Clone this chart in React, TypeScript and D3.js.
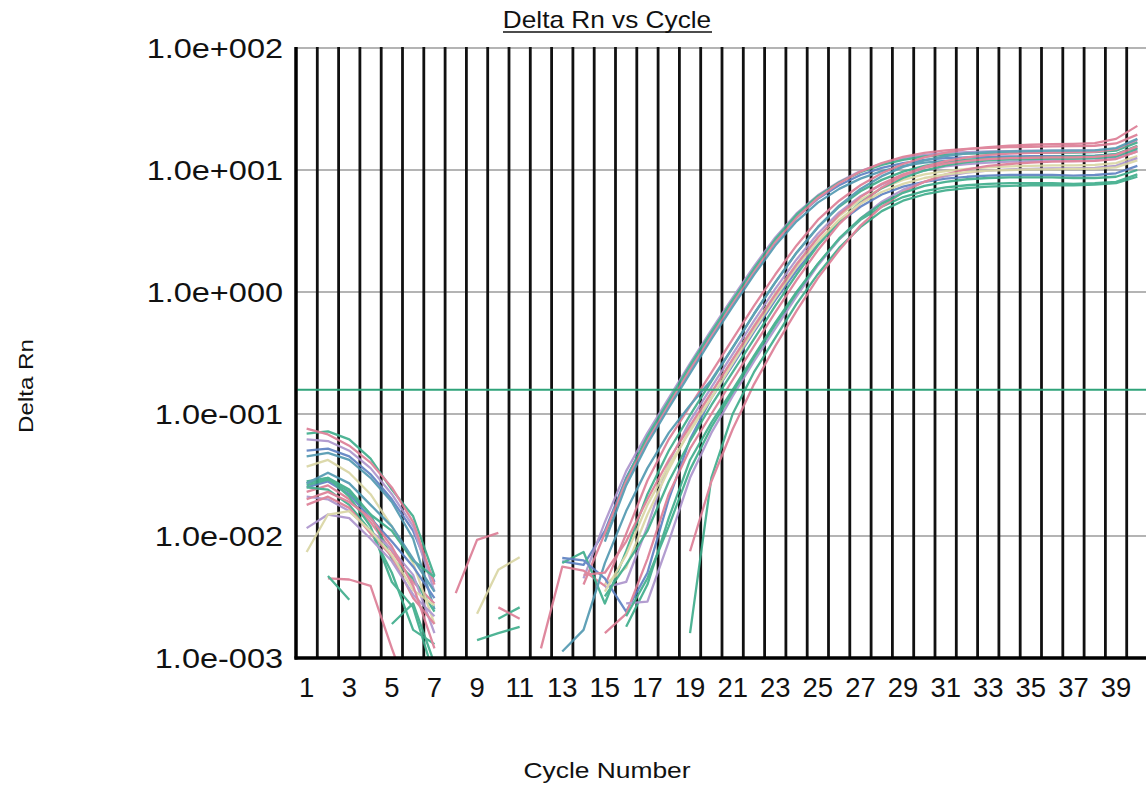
import React from "react";
import * as d3 from "d3";

// cycle numbers and axis labels
const cycles = d3.range(1, 41);
const xLabelCycles = d3.range(1, 40, 2);
const yTicks = [1e-3, 1e-2, 1e-1, 1, 10, 100];
const yTickLabels = ["1.0e-003", "1.0e-002", "1.0e-001", "1.0e+000", "1.0e+001", "1.0e+002"];
const threshold = 0.158;

const _ = null;

// Delta Rn per cycle, one array per well (null = not shown)
const wellA1 = [0.05, 0.052, 0.045, 0.032, 0.02, 0.011, 0.0042, _, _, _,
  _, _, 0.0062, 0.0058, 0.011, 0.03, 0.064, 0.124, 0.24, 0.45,
  0.83, 1.5, 2.6, 4.1, 5.8, 7.5, 9.1, 10.4, 11.4, 12.1,
  12.5, 12.7, 12.8, 12.9, 13.0, 13.0, 13.0, 13.1, 13.4, 15.2];
const wellA2 = [0.062, 0.06, 0.05, 0.036, 0.022, 0.012, 0.0035, _, _, _,
  _, _, _, 0.0045, 0.013, 0.034, 0.07, 0.135, 0.26, 0.49,
  0.9, 1.62, 2.8, 4.4, 6.2, 8.0, 9.8, 11.3, 12.5, 13.3,
  13.8, 14.0, 14.2, 14.3, 14.4, 14.4, 14.5, 14.5, 14.9, 17.0];
const wellA3 = [0.069, 0.072, 0.062, 0.043, 0.024, 0.0145, 0.0047, _, _, _,
  _, _, _, _, 0.01, 0.029, 0.066, 0.128, 0.25, 0.47,
  0.86, 1.55, 2.7, 4.3, 6.1, 7.9, 9.6, 11.0, 12.1, 12.9,
  13.3, 13.6, 13.7, 13.8, 13.8, 13.9, 13.9, 14.0, 14.4, 16.8];
const wellA4 = [0.076, 0.068, 0.055, 0.04, 0.025, 0.013, 0.004, _, _, _,
  _, _, _, 0.004, 0.0105, 0.028, 0.06, 0.118, 0.23, 0.43,
  0.8, 1.45, 2.55, 4.05, 5.9, 7.8, 9.7, 11.4, 12.8, 13.8,
  14.5, 14.9, 15.2, 15.4, 15.5, 15.6, 15.7, 15.8, 16.5, 19.5];
const wellA5 = [0.045, 0.048, 0.042, 0.03, 0.019, 0.0095, 0.0025, _, _, _,
  _, _, _, _, 0.009, 0.026, 0.057, 0.112, 0.215, 0.41,
  0.76, 1.38, 2.4, 3.8, 5.4, 7.0, 8.5, 9.8, 10.8, 11.5,
  11.9, 12.1, 12.2, 12.3, 12.3, 12.4, 12.4, 12.5, 12.8, 14.5];
const wellB1 = [0.023, 0.026, 0.02, 0.013, 0.0075, 0.0042, 0.0028, _, _, _,
  _, 0.0012, 0.0056, 0.0052, 0.0039, 0.0104, 0.0285, 0.062, 0.116, 0.218,
  0.41, 0.77, 1.39, 2.41, 3.9, 5.6, 7.5, 9.4, 11.2, 12.7,
  13.9, 14.8, 15.4, 15.8, 16.1, 16.3, 16.4, 16.6, 18.0, 23.0];
const wellB2 = [0.028, 0.03, 0.024, 0.015, 0.0065, 0.0045, 0.0024, _, _, _,
  _, _, 0.006, 0.0074, 0.0028, 0.0075, 0.022, 0.05, 0.098, 0.185,
  0.35, 0.66, 1.2, 2.1, 3.4, 5.0, 6.7, 8.3, 9.7, 10.8,
  11.6, 12.1, 12.4, 12.6, 12.7, 12.8, 12.9, 13.0, 13.5, 15.8];
const wellB3 = [0.021, 0.02, 0.016, 0.011, 0.0078, 0.0048, 0.0016, _, _, _,
  _, _, _, _, 0.0038, 0.0042, 0.012, 0.04, 0.088, 0.165,
  0.31, 0.58, 1.06, 1.85, 3.0, 4.5, 6.1, 7.6, 8.9, 9.9,
  10.7, 11.2, 11.5, 11.7, 11.8, 11.9, 11.9, 12.0, 12.4, 14.2];
const wellB4 = [0.037, 0.042, 0.033, 0.022, 0.012, 0.006, 0.0019, _, 0.0023, 0.0053,
  0.0067, _, _, _, 0.004, 0.0055, 0.015, 0.035, 0.075, 0.148,
  0.28, 0.53, 0.97, 1.7, 2.8, 4.2, 5.7, 7.1, 8.3, 9.2,
  9.8, 10.2, 10.5, 10.7, 10.8, 10.9, 10.9, 11.0, 11.4, 13.0];
const wellB5 = [0.025, 0.028, 0.022, 0.014, 0.009, 0.0056, 0.0031, _, _, _,
  _, _, 0.0066, 0.0063, 0.0045, 0.0024, 0.005, 0.02, 0.062, 0.135,
  0.25, 0.47, 0.86, 1.5, 2.45, 3.7, 5.0, 6.3, 7.3, 8.0,
  8.5, 8.8, 9.0, 9.1, 9.1, 9.1, 9.0, 9.1, 9.4, 10.8];
const wellB6 = [0.025, 0.024, 0.018, 0.011, 0.005, 0.0017, 0.0013, _, _, 0.0021,
  0.0026, _, _, _, 0.0032, 0.0058, 0.011, 0.028, 0.06, 0.118,
  0.22, 0.41, 0.77, 1.39, 2.4, 3.8, 5.4, 7.1, 8.6, 9.9,
  10.9, 11.6, 12.0, 12.2, 12.3, 12.4, 12.4, 12.5, 13.0, 15.0];
const wellB7 = [0.018, 0.021, 0.017, 0.0105, 0.0068, 0.0031, 0.0019, _, _, _,
  _, _, _, _, 0.0016, 0.0023, 0.0065, 0.022, 0.052, 0.1,
  0.19, 0.36, 0.68, 1.25, 2.2, 3.6, 5.3, 7.2, 9.0, 10.6,
  11.8, 12.7, 13.3, 13.6, 13.8, 13.9, 14.0, 14.1, 14.8, 17.8];
const wellB8 = [0.027, 0.03, 0.021, 0.012, 0.0042, 0.0026, 0.0007, _, 0.0014, 0.0016,
  0.0018, _, _, _, _, 0.0018, 0.004, 0.014, 0.042, 0.085,
  0.158, 0.3, 0.56, 1.0, 1.7, 2.7, 3.9, 5.0, 6.0, 6.7,
  7.2, 7.5, 7.7, 7.8, 7.8, 7.8, 7.7, 7.8, 8.0, 9.2];
const wellB9 = [0.0116, 0.015, 0.014, 0.0095, 0.0062, 0.0033, 0.0022, _, _, _,
  _, _, _, _, _, 0.0028, 0.0029, 0.009, 0.03, 0.07,
  0.14, 0.27, 0.5, 0.92, 1.65, 2.7, 4.0, 5.5, 6.9, 8.0,
  8.9, 9.5, 9.9, 10.1, 10.2, 10.3, 10.3, 10.4, 10.8, 12.5];
const wellB10 = [0.026, 0.029, 0.023, 0.015, 0.011, 0.0063, 0.0046, _, _, _,
  _, _, _, _, _, _, _, _, 0.0016, 0.03,
  0.1, 0.22, 0.42, 0.8, 1.4, 2.3, 3.4, 4.6, 5.6, 6.3,
  6.8, 7.1, 7.3, 7.4, 7.5, 7.5, 7.5, 7.6, 7.8, 8.8];
const wellB11 = [_, 0.0045, 0.0044, 0.0039, 0.0012, 0.0004, _, 0.0034, 0.0093, 0.0106,
  _, _, _, _, _, _, _, _, 0.0075, 0.028,
  0.075, 0.175, 0.36, 0.7, 1.3, 2.2, 3.5, 5.0, 6.6, 8.0,
  9.2, 10.1, 10.8, 11.2, 11.5, 11.7, 11.8, 11.9, 12.3, 14.2];
const wellB12 = [0.0074, 0.015, 0.016, 0.011, 0.007, 0.0036, 0.0027, _, _, _,
  _, _, _, _, 0.0035, 0.007, 0.018, 0.038, 0.072, 0.135,
  0.26, 0.49, 0.9, 1.6, 2.6, 3.9, 5.3, 6.6, 7.7, 8.6,
  9.2, 9.6, 9.9, 10.0, 10.1, 10.1, 10.2, 10.2, 10.5, 12.0];
const wellB13 = [0.027, 0.033, 0.027, 0.018, 0.012, 0.0065, 0.0035, _, _, _,
  _, _, 0.00113, 0.0017, 0.006, 0.016, 0.036, 0.07, 0.118, 0.19,
  0.35, 0.66, 1.2, 2.1, 3.4, 5.1, 7.0, 8.9, 10.6, 12.0,
  13.0, 13.7, 14.0, 14.2, 14.3, 14.4, 14.4, 14.5, 15.1, 18.0];
const wellB14 = [0.02, 0.023, 0.019, 0.014, 0.0082, 0.0039, 0.0012, _, _, 0.0026,
  0.0021, _, _, 0.0048, 0.005, 0.009, 0.02, 0.042, 0.08, 0.15,
  0.28, 0.52, 0.95, 1.68, 2.8, 4.3, 6.0, 7.7, 9.2, 10.4,
  11.3, 11.9, 12.3, 12.5, 12.6, 12.7, 12.7, 12.8, 13.3, 15.6];
const wellB15 = [_, 0.0047, 0.003, _, 0.0019, 0.0028, 0.0009, _, _, _,
  _, _, _, _, _, 0.0022, 0.0045, 0.012, 0.035, 0.078,
  0.15, 0.29, 0.54, 0.98, 1.7, 2.75, 4.0, 5.3, 6.5, 7.4,
  8.0, 8.4, 8.6, 8.7, 8.7, 8.7, 8.6, 8.6, 8.8, 10.0];

const wells = [wellA1, wellA2, wellA3, wellA4, wellA5, wellB1, wellB2, wellB3, wellB4, wellB5,
  wellB6, wellB7, wellB8, wellB9, wellB10, wellB11, wellB12, wellB13, wellB14, wellB15];

const pink = "#dc7c94", teal = "#3cac8a", blue = "#5c80c2", purple = "#ab93cc",
  beige = "#d9d5a3", tealBlue = "#4f97b0";
const wellColors = [blue, purple, teal, pink, tealBlue, pink, teal, purple, beige, blue,
  teal, pink, teal, purple, teal, pink, beige, tealBlue, pink, teal];

const W = 1146, H = 785;
const left = 296, right = 1148, top = 48, bottom = 658;

export default function App() {
  const x = d3.scaleLinear().domain([0.5, 40.5]).range([left, right]);
  const y = d3.scaleLog().domain([1e-3, 1e2]).range([bottom, top]);

  const line = d3.line<number | null>()
    .defined((d) => d != null)
    .x((d, i) => x(cycles[i]))
    .y((d) => y(d as number));

  const font = "'Liberation Sans', Arial, sans-serif";
  const bounds = d3.range(0, 40).map((k) => k + 0.5);

  return (
    <svg width={W} height={H} style={{ position: "absolute", left: 0, top: 0, background: "#fff" }}
      fontFamily={font}>
      <defs>
        <clipPath id="plot">
          <rect x={left} y={top} width={W - left} height={bottom - top} />
        </clipPath>
      </defs>
      <rect width={W} height={H} fill="#fff" />

      {/* title */}
      <text transform={`translate(607,28) scale(1.14,1)`} textAnchor="middle" fontSize={23} fill="#111">
        Delta Rn vs Cycle
      </text>
      <line x1={503} x2={712} y1={32} y2={32} stroke="#111" strokeWidth={1.5} />

      {/* horizontal grid */}
      {yTicks.map((t) => (
        <line key={t} x1={left} x2={W} y1={y(t)} y2={y(t)} stroke="#b4b4b4" strokeWidth={2} />
      ))}

      {/* vertical cycle lines */}
      {bounds.map((b) => (
        <line key={b} x1={x(b)} x2={x(b)} y1={top - 1} y2={bottom} stroke="#111" strokeWidth={2.8} />
      ))}

      {/* amplification curves */}
      <g clipPath="url(#plot)" fill="none" strokeWidth={2.3} strokeLinejoin="round" opacity={0.9}>
        {wells.map((w, i) => (
          <path key={i} d={line(w) || ""} stroke={wellColors[i]} />
        ))}
      </g>

      {/* threshold */}
      <line x1={left} x2={W} y1={y(threshold)} y2={y(threshold)} stroke="#2fa37a" strokeWidth={2} />

      {/* axes */}
      <line x1={left} x2={left} y1={top - 1} y2={bottom + 1.5} stroke="#000" strokeWidth={3.2} />
      <line x1={left - 1.5} x2={W} y1={bottom} y2={bottom} stroke="#000" strokeWidth={3.5} />

      {/* y tick labels */}
      {yTicks.map((t, i) => (
        <text key={t} transform={`translate(283,${y(t) + 10}) scale(1.16,1)`} textAnchor="end"
          fontSize={28} fill="#111">
          {yTickLabels[i]}
        </text>
      ))}

      {/* x tick labels */}
      {xLabelCycles.map((c) => (
        <text key={c} transform={`translate(${x(c)},697) scale(0.98,1)`} textAnchor="middle"
          fontSize={28} fill="#111">
          {c}
        </text>
      ))}

      {/* axis titles */}
      <text transform="translate(607,778) scale(1.2,1)" textAnchor="middle" fontSize={22} fill="#111">
        Cycle Number
      </text>
      <text transform="translate(33,386) rotate(-90) scale(1.15,1)" textAnchor="middle" fontSize={21} fill="#111">
        Delta Rn
      </text>
    </svg>
  );
}
